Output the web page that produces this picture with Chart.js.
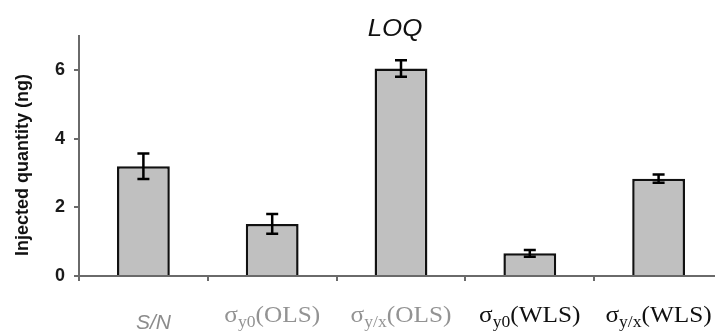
<!DOCTYPE html>
<html>
<head>
<meta charset="utf-8">
<script src="https://cdn.jsdelivr.net/npm/chart.js@4/dist/chart.umd.min.js"></script>
<style>
html,body{margin:0;padding:0;background:#fff;overflow:hidden;width:715px;height:332px;}
#wrap{width:715px;height:332px;overflow:hidden;position:relative;}
canvas{display:block;}
</style>
</head>
<body>
<div id="wrap"><canvas id="c" width="725" height="332"></canvas></div>
<script>
// ---- data ----
const categories = ['S/N', 'σ_{y0}(OLS)', 'σ_{y/x}(OLS)', 'σ_{y0}(WLS)', 'σ_{y/x}(WLS)'];
const loqValues = [3.20, 1.52, 6.05, 0.66, 2.84];
const loqErrors = [0.37, 0.29, 0.24, 0.10, 0.12];
const yTicks = [0, 2, 4, 6];
const chartTitle = 'LOQ';
const yAxisTitle = 'Injected quantity (ng)';

// ---- styles ----
const labelColors = ['#8c8c8c', '#939393', '#939393', '#111111', '#111111'];

const errorBars = {
  id: 'errorBars',
  afterDatasetsDraw(chart) {
    const ctx = chart.ctx;
    const meta = chart.getDatasetMeta(0);
    const y = chart.scales.y;
    ctx.save();
    ctx.strokeStyle = '#000';
    ctx.lineWidth = 2.5;
    meta.data.forEach((bar, i) => {
      const x = bar.x;
      const top = y.getPixelForValue(loqValues[i] + loqErrors[i]);
      const bot = y.getPixelForValue(loqValues[i] - loqErrors[i]);
      ctx.beginPath();
      ctx.moveTo(x, top); ctx.lineTo(x, bot);
      ctx.moveTo(x - 6, top); ctx.lineTo(x + 6, top);
      ctx.moveTo(x - 6, bot); ctx.lineTo(x + 6, bot);
      ctx.stroke();
    });
    ctx.restore();
  }
};

const texts = {
  id: 'texts',
  afterDraw(chart) {
    const ctx = chart.ctx;
    const xs = chart.scales.x;
    ctx.save();
    // title
    ctx.fillStyle = '#111';
    ctx.font = 'italic 24px "Liberation Sans", Arial, sans-serif';
    ctx.textAlign = 'center';
    ctx.textBaseline = 'alphabetic';
    ctx.save();
    ctx.translate(395, 36);
    ctx.scale(1.08, 1);
    ctx.fillText(chartTitle, 0, 0);
    ctx.restore();
    // y title
    ctx.save();
    ctx.translate(28, 165);
    ctx.rotate(-Math.PI / 2);
    ctx.font = 'bold 18px "Liberation Sans", Arial, sans-serif';
    ctx.fillStyle = '#111';
    ctx.textAlign = 'center';
    ctx.fillText(yAxisTitle, 0, 0);
    ctx.restore();
    // category labels
    categories.forEach((lab, i) => {
      const cx = xs.getPixelForValue(i);
      ctx.fillStyle = labelColors[i];
      ctx.textAlign = 'left';
      const m = lab.match(/^(.*?)_\{(.*?)\}(.*)$/);
      if (!m) {
        ctx.font = 'italic 21px "Liberation Sans", Arial, sans-serif';
        const w = ctx.measureText(lab).width;
        ctx.fillText(lab, cx + 10 - w / 2, 329);
        return;
      }
      const mainFont = '23px "Liberation Serif", "Times New Roman", serif';
      const subFont = '16px "Liberation Serif", "Times New Roman", serif';
      ctx.font = mainFont; const w1 = ctx.measureText(m[1]).width; const w3 = ctx.measureText(m[3]).width;
      ctx.font = subFont; const w2 = ctx.measureText(m[2]).width;
      const sx = 1.1;
      const total = (w1 + w2 + w3) * sx;
      ctx.save();
      ctx.translate(cx - total / 2, 0);
      ctx.scale(sx, 1);
      ctx.font = mainFont; ctx.fillText(m[1], 0, 322);
      ctx.font = subFont; ctx.fillText(m[2], w1, 327);
      ctx.font = mainFont; ctx.fillText(m[3], w1 + w2, 322);
      ctx.restore();
    });
    ctx.restore();
  }
};

new Chart(document.getElementById('c'), {
  type: 'bar',
  data: {
    labels: categories,
    datasets: [{
      data: loqValues,
      backgroundColor: '#c0c0c0',
      borderColor: '#111',
      borderWidth: 2.5,
      borderSkipped: 'start',
      categoryPercentage: 1,
      barPercentage: 0.41
    }]
  },
  options: {
    responsive: false,
    animation: false,
    devicePixelRatio: 1,
    layout: { padding: { left: 0, top: 36, right: 2, bottom: 0 } },
    plugins: { legend: { display: false }, tooltip: { enabled: false }, title: { display: false } },
    scales: {
      x: {
        grid: { display: true, drawOnChartArea: false, drawTicks: true, tickLength: 5, color: '#6a6a6a', lineWidth: 2, offset: true },
        border: { display: true, color: '#6a6a6a', width: 2 },
        ticks: { display: false },
        afterFit(s) { s.height = 56; }
      },
      y: {
        min: 0, max: 7,
        grid: { display: true, drawOnChartArea: false, drawTicks: true, tickLength: 5, color: '#6a6a6a', lineWidth: 2 },
        border: { display: true, color: '#6a6a6a', width: 2 },
        ticks: {
          stepSize: 2, includeBounds: false, padding: 9, color: '#1a1a1a',
          font: { family: '"Liberation Sans", Arial, sans-serif', size: 18, weight: 'bold' },
          callback: (v) => yTicks.includes(v) ? String(v) : ''
        },
        afterFit(s) { s.width = 79; }
      }
    }
  },
  plugins: [errorBars, texts]
});
</script>
</body>
</html>
